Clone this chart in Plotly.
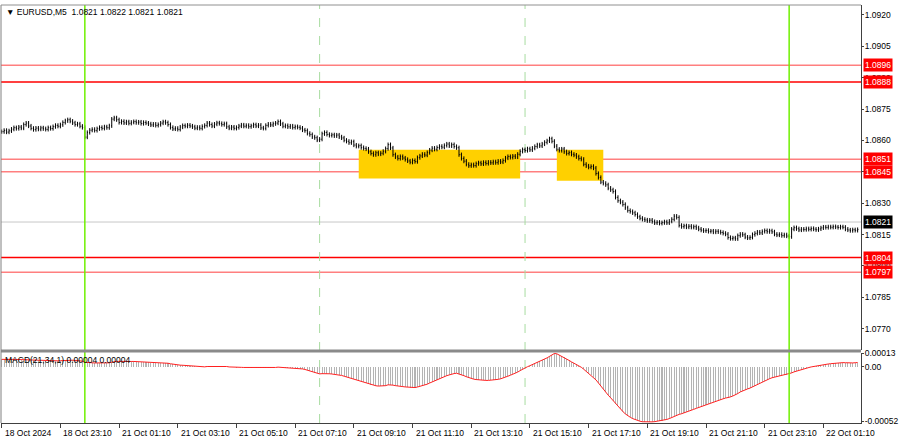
import plotly.graph_objects as go
import pandas as pd

# ---------------- data ----------------
symbol_title = "EURUSD,M5"
header_ohlc = ["1.0821", "1.0822", "1.0821", "1.0821"]
macd_title = "MACD(21,34,1)"
macd_header = ["0.00004", "0.00004"]

# close of every 5-minute bar, in pips above 1.0800 (18 Oct 21:10 .. 22 Oct 02:20)
close_pips = [
    64.2, 64.8, 64.0, 64.6, 65.4, 66.1, 65.7, 66.4, 65.9, 67.6,
    68.3, 66.9, 65.8, 65.2, 65.9, 65.4, 66.0, 65.6, 65.3, 66.1,
    65.7, 66.6, 67.2, 66.8, 67.5, 68.6, 69.4, 69.9, 69.2, 68.4,
    67.6, 67.9, 66.8, 66.2,
    61.6, 63.8, 64.9, 65.3, 64.8, 65.6, 66.2, 65.8, 66.5, 66.1,
    67.0, 70.2, 70.8, 69.9, 68.6, 69.1, 68.4, 68.9, 68.2, 68.7,
    69.0, 68.5, 68.8, 68.1, 68.6, 68.3, 67.9, 67.4, 67.8, 67.2,
    67.6, 68.3, 68.9, 68.5, 67.6, 66.2, 65.5, 65.8, 65.3, 66.4,
    67.1, 66.8, 67.3, 66.9, 66.5, 65.9, 66.3, 65.8, 66.7, 67.2,
    68.3, 67.6, 66.9, 67.8, 68.4, 68.1, 67.6, 68.0, 66.5, 65.9,
    66.4, 65.8, 66.2, 66.9, 67.4, 66.8, 67.2, 66.6, 67.0, 67.5,
    66.9, 67.3, 66.0, 65.8, 67.2, 67.8, 67.4, 68.0, 68.3, 69.0,
    67.9, 66.8, 67.1, 66.5, 66.9, 66.2, 66.6, 66.3, 65.9, 65.0,
    64.7, 63.4, 62.8, 61.7, 61.3, 60.2, 60.6, 63.2, 63.8, 62.9,
    62.4, 62.7, 62.2, 62.6, 61.7, 61.2, 60.1, 59.6, 58.9, 59.4,
    57.8, 57.2, 57.5, 56.6, 56.2, 55.9, 54.6, 53.8, 53.2, 54.1,
    53.5, 53.9, 54.8, 56.1, 58.0, 56.4, 53.2, 52.1, 51.4, 52.3,
    51.6, 50.9, 50.2, 49.6, 50.4, 49.9, 51.8, 52.6, 53.4, 53.0,
    54.2, 55.4, 56.3, 55.8, 56.6, 57.2, 56.8, 57.6, 58.3, 57.4,
    58.0, 57.1, 56.5, 53.2, 51.4, 50.1, 48.6, 47.9, 48.4, 48.0,
    48.9, 49.3, 48.8, 49.5, 49.0, 49.6, 49.3, 49.8, 49.4, 50.1,
    49.7, 50.4, 51.6, 52.3, 51.9, 52.5, 52.1, 53.4, 54.8, 55.6,
    55.2, 56.0, 55.5, 56.3, 57.1, 57.9, 57.4, 58.3, 59.1, 59.8,
    60.8, 59.6, 57.3, 55.8, 55.2, 55.9, 54.6, 53.8, 54.2, 53.4,
    53.0, 52.2, 51.4, 51.0, 48.6, 47.8, 47.2, 47.6, 46.8, 44.2,
    42.3, 40.1, 39.5, 38.8, 37.2, 36.4, 35.6, 32.8, 31.2, 30.5,
    29.4, 27.8, 26.5, 26.0, 25.4, 24.6, 23.5, 22.8, 22.3, 22.0,
    21.6, 21.9, 21.2, 20.6, 20.9, 20.4, 20.7, 21.1, 20.6, 21.4,
    22.3, 23.8, 23.2, 19.4, 18.8, 19.2, 18.6, 19.0, 18.5, 18.8,
    18.2, 17.6, 17.1, 16.8, 17.0, 16.5, 16.7, 16.2, 16.6, 16.3,
    16.0, 15.6, 15.2, 13.6, 13.1, 13.4, 13.0, 14.5, 15.2, 14.9,
    13.8, 13.4, 13.7, 15.0, 15.6, 16.2, 15.8, 16.5, 16.9, 16.4,
    16.8, 16.3, 15.2, 14.8, 15.1, 14.5, 14.9, 14.3, 14.0, 17.6,
    18.3, 17.8, 17.2, 17.6, 17.4, 17.8, 17.5, 17.9, 17.6, 17.3,
    17.7, 18.2, 18.6, 18.4, 18.7, 18.5, 18.8, 18.6, 18.4, 18.7,
    18.5, 17.6, 17.2, 16.9, 17.3, 17.0, 17.4,
]

# MACD value of every bar, in units of 0.00001
macd_1e5 = [
    7.0, 7.1, 7.0, 6.9, 6.9, 7.0, 6.9, 6.8, 6.7, 6.8,
    6.9, 6.7, 6.4, 6.2, 6.1, 6.0, 5.9, 5.8, 5.6, 5.6,
    5.5, 5.5, 5.6, 5.6, 5.7, 5.9, 6.1, 6.3, 6.3, 6.2,
    6.0, 5.9, 5.6, 5.3,
    4.2, 3.9, 3.8, 3.7, 3.6, 3.6, 3.6, 3.5, 3.6, 3.6,
    3.7, 4.3, 4.9, 5.1, 5.1, 5.2, 5.1, 5.1, 5.0, 5.0,
    5.0, 4.9, 4.9, 4.7, 4.6, 4.5, 4.3, 4.0, 3.9, 3.6,
    3.5, 3.5, 3.6, 3.5, 3.3, 2.8, 2.3, 2.0, 1.6, 1.5,
    1.4, 1.2, 1.1, 0.9, 0.6, 0.3, 0.1, -0.2, -0.2, -0.1,
    0.2, 0.2, 0.1, 0.3, 0.5, 0.6, 0.6, 0.6, 0.2, -0.2,
    -0.4, -0.7, -0.8, -0.7, -0.6, -0.7, -0.7, -0.8, -0.8, -0.7,
    -0.8, -0.8, -1.1, -1.4, -1.3, -1.1, -1.0, -0.9, -0.7, -0.4,
    -0.5, -0.7, -0.8, -1.0, -1.1, -1.3, -1.4, -1.5, -1.7, -2.1,
    -2.6, -3.3, -4.0, -4.8, -5.5, -6.3, -6.8, -6.6, -6.4, -6.5,
    -6.7, -6.9, -7.1, -7.3, -7.8, -8.3, -9.0, -9.7, -10.5, -11.0,
    -11.8, -12.6, -13.2, -13.9, -14.6, -15.2, -16.1, -17.0, -17.8, -18.1,
    -18.4, -18.5, -18.4, -18.0, -17.2, -17.0, -17.5, -18.0, -18.5, -18.7,
    -18.9, -19.2, -19.5, -19.8, -19.8, -19.8, -19.3, -18.7, -18.0, -17.4,
    -16.6, -15.5, -14.4, -13.5, -12.5, -11.5, -10.6, -9.6, -8.5, -7.8,
    -7.0, -6.5, -6.2, -6.8, -7.6, -8.5, -9.5, -10.4, -11.1, -11.8,
    -12.2, -12.5, -12.8, -12.9, -13.0, -13.0, -12.9, -12.7, -12.4, -12.0,
    -11.5, -10.9, -10.0, -9.0, -8.1, -7.2, -6.3, -5.1, -3.7, -2.3,
    -1.2, 0.0, 1.0, 2.0, 3.1, 4.2, 5.1, 6.2, 7.3, 8.4,
    9.8, 11.4, 12.6, 12.3, 11.2, 10.0, 8.8, 7.4, 6.0, 4.6,
    3.5, 2.3, 0.9, -0.5, -2.4, -4.3, -6.2, -8.0, -9.9, -12.5,
    -15.4, -18.5, -21.4, -24.2, -27.0, -29.5, -32.2, -35.1, -37.8, -40.2,
    -42.6, -44.8, -46.6, -48.0, -49.3, -50.3, -51.1, -51.8, -52.3, -52.5,
    -52.6, -52.5, -52.4, -52.2, -51.9, -51.6, -51.2, -50.7, -50.1, -49.3,
    -48.2, -46.8, -45.7, -45.3, -44.7, -44.0, -43.1, -42.3, -41.4, -40.5,
    -39.6, -38.7, -37.9, -37.0, -36.1, -35.3, -34.5, -33.7, -32.9, -32.1,
    -31.3, -30.5, -29.8, -29.4, -28.7, -27.8, -26.9, -25.5, -24.0, -22.8,
    -22.0, -21.1, -20.3, -19.1, -17.9, -16.8, -15.7, -14.6, -13.5, -12.4,
    -11.4, -10.5, -9.9, -9.4, -8.9, -8.4, -7.9, -7.5, -7.0, -5.9,
    -4.9, -4.1, -3.4, -2.7, -2.0, -1.4, -0.8, -0.2, 0.3, 0.7,
    1.1, 1.5, 1.9, 2.3, 2.6, 2.9, 3.2, 3.4, 3.6, 3.8,
    3.9, 3.8, 3.6, 3.5, 3.6, 3.8, 4.0,
]

strong_levels = [1.0888, 1.0804]
weak_levels = [1.0896, 1.0851, 1.0845, 1.0797]
bid_price = 1.0821
zones = [  # (start, end, low, high)
    ("2024-10-21 09:20", "2024-10-21 14:50", 1.08418, 1.08555),
    ("2024-10-21 16:05", "2024-10-21 17:40", 1.08407, 1.08555),
]
day_starts = ["2024-10-21 00:00", "2024-10-22 00:00"]
session_marks = ["2024-10-21 08:00", "2024-10-21 15:00"]
price_ticks = [1.0770, 1.0785, 1.0800, 1.0815, 1.0830, 1.0845, 1.0860,
               1.0875, 1.0890, 1.0905, 1.0920]
macd_ticks = [0.00013, 0.0, -0.00052]
macd_ticktext = ["0.00013", "0.00", "-0.00052"]
label_every = 24

# ---------------- build ----------------
fri = list(pd.date_range("2024-10-18 21:10", "2024-10-18 23:55", freq="5min"))
mon = list(pd.date_range("2024-10-21 00:00", periods=len(close_pips) - len(fri), freq="5min"))
times = fri + mon
n = len(times)
pos = {t: i for i, t in enumerate(times)}
idx = list(range(n))

closes = [1.08 + p / 10000 for p in close_pips[:n]]
opens = [closes[0]] + closes[:-1]
wick = 0.0001
highs = [max(o, c) + wick for o, c in zip(opens, closes)]
lows = [min(o, c) - wick for o, c in zip(opens, closes)]
macd = [v / 100000 for v in macd_1e5[:n]]

FONT = "Liberation Sans, Arial, sans-serif"
FS = 8.5

fig = go.Figure()
fig.add_trace(go.Bar(x=idx, y=macd, marker=dict(color="#b4b4b4", line_width=0),
                     width=0.42, yaxis="y2", xaxis="x", hoverinfo="skip"))
fig.add_trace(go.Scatter(x=idx, y=macd, mode="lines", line=dict(color="#ff2020", width=1),
                         yaxis="y2", xaxis="x", hoverinfo="skip"))
fig.add_trace(go.Ohlc(x=idx, open=opens, high=highs, low=lows, close=closes,
                      increasing_line_color="black", decreasing_line_color="black",
                      line_width=1, tickwidth=0.3, yaxis="y", xaxis="x", hoverinfo="skip"))

main_dom = [0.1758, 1.0]
macd_dom = [0.0, 0.1686]

shapes = []
for s, e, lo, hi in zones:
    shapes.append(dict(type="rect", xref="x", yref="y", x0=pos[pd.Timestamp(s)], x1=pos[pd.Timestamp(e)],
                       y0=lo, y1=hi, fillcolor="#ffd000", line_width=0, layer="below"))
for lv in weak_levels:
    shapes.append(dict(type="line", xref="paper", yref="y", x0=0, x1=1, y0=lv, y1=lv,
                       line=dict(color="rgba(255,0,0,0.5)", width=1.5), layer="below"))
for lv in strong_levels:
    shapes.append(dict(type="line", xref="paper", yref="y", x0=0, x1=1, y0=lv, y1=lv,
                       line=dict(color="#ff0000", width=1.5), layer="below"))
shapes.append(dict(type="line", xref="paper", yref="y", x0=0, x1=1, y0=bid_price, y1=bid_price,
                   line=dict(color="#c8c8c8", width=1), layer="below"))
for t in session_marks:
    xv = pos[pd.Timestamp(t)]
    shapes.append(dict(type="line", xref="x", yref="paper", x0=xv, x1=xv, y0=0, y1=1,
                       line=dict(color="#a8dca0", width=1, dash="dash"), layer="below"))
for t in day_starts:
    xv = pos[pd.Timestamp(t)]
    shapes.append(dict(type="line", xref="x", yref="paper", x0=xv, x1=xv, y0=0, y1=1,
                       line=dict(color="#70f000", width=1.5), layer="above"))
# panel separator and borders
shapes.append(dict(type="rect", xref="paper", yref="paper", x0=0, x1=1,
                   y0=macd_dom[1], y1=main_dom[0], fillcolor="#8a8a8a", line_width=0))
shapes.append(dict(type="line", xref="paper", yref="paper", x0=0, x1=0, y0=0, y1=1,
                   line=dict(color="#808080", width=1)))
shapes.append(dict(type="line", xref="paper", yref="paper", x0=0, x1=1, y0=1, y1=1,
                   line=dict(color="#909090", width=1)))

annotations = []
annotations.append(dict(xref="paper", yref="paper", x=0, y=1, xanchor="left", yanchor="top",
                        xshift=3, yshift=0, showarrow=False,
                        text="▼ " + symbol_title + "  " + " ".join(header_ohlc),
                        font=dict(family=FONT, size=FS, color="black")))
annotations.append(dict(xref="paper", yref="paper", x=0, y=macd_dom[1], xanchor="left", yanchor="top",
                        xshift=2, yshift=0, showarrow=False,
                        text=macd_title + " " + " ".join(macd_header),
                        font=dict(family=FONT, size=FS, color="black")))
for lv in weak_levels + strong_levels:
    annotations.append(dict(xref="paper", yref="y", x=1, y=lv, xanchor="left", yanchor="middle",
                            xshift=2, showarrow=False, text=f"{lv:.4f}", bgcolor="#ff0000",
                            borderpad=1, font=dict(family=FONT, size=FS, color="white")))
annotations.append(dict(xref="paper", yref="y", x=1, y=bid_price, xanchor="left", yanchor="middle",
                        xshift=2, showarrow=False, text=f"{bid_price:.4f}", bgcolor="#000000",
                        borderpad=1, font=dict(family=FONT, size=FS, color="white")))

tick_idx = list(range(0, n, label_every))
for i in tick_idx:
    t = times[i]
    txt = f"{t.day} {t:%b} {t:%Y}" if i == 0 else f"{t.day} {t:%b} {t:%H:%M}"
    annotations.append(dict(xref="x", yref="paper", x=i, y=0, xanchor="left", yanchor="top",
                            xshift=1, yshift=-3, showarrow=False, text=txt,
                            font=dict(family=FONT, size=FS, color="black")))

fig.update_layout(
    width=900, height=441,
    margin=dict(l=1, r=36, t=2, b=18),
    paper_bgcolor="white", plot_bgcolor="white",
    showlegend=False, bargap=0,
    shapes=shapes, annotations=annotations,
    xaxis=dict(range=[-0.285, 351.38], domain=[0, 1], anchor="y2",
               showgrid=False, zeroline=False, showline=True, linecolor="#404040", linewidth=1,
               tickvals=tick_idx, ticks="outside", ticklen=4, tickcolor="#404040",
               showticklabels=False, rangeslider=dict(visible=False), fixedrange=True),
    yaxis=dict(domain=main_dom, range=[1.076006, 1.092475], side="right", anchor="x",
               tickvals=price_ticks, ticktext=[f"{v:.4f}" for v in price_ticks],
               ticks="outside", ticklen=2, tickcolor="#404040", ticklabelstandoff=-1,
               showgrid=False, zeroline=False, showline=True, linecolor="#404040",
               tickfont=dict(family=FONT, size=FS, color="black")),
    yaxis2=dict(domain=macd_dom, range=[-0.000535, 0.000135], side="right", anchor="x",
                tickvals=macd_ticks, ticktext=macd_ticktext,
                ticks="outside", ticklen=2, tickcolor="#404040", ticklabelstandoff=-1,
                showgrid=False, zeroline=False, showline=True, linecolor="#404040",
                tickfont=dict(family=FONT, size=FS, color="black")),
)

fig.write_html("out.html", config={"displayModeBar": False, "staticPlot": True},
               post_script="document.body.style.margin='0';document.body.style.padding='0';")
